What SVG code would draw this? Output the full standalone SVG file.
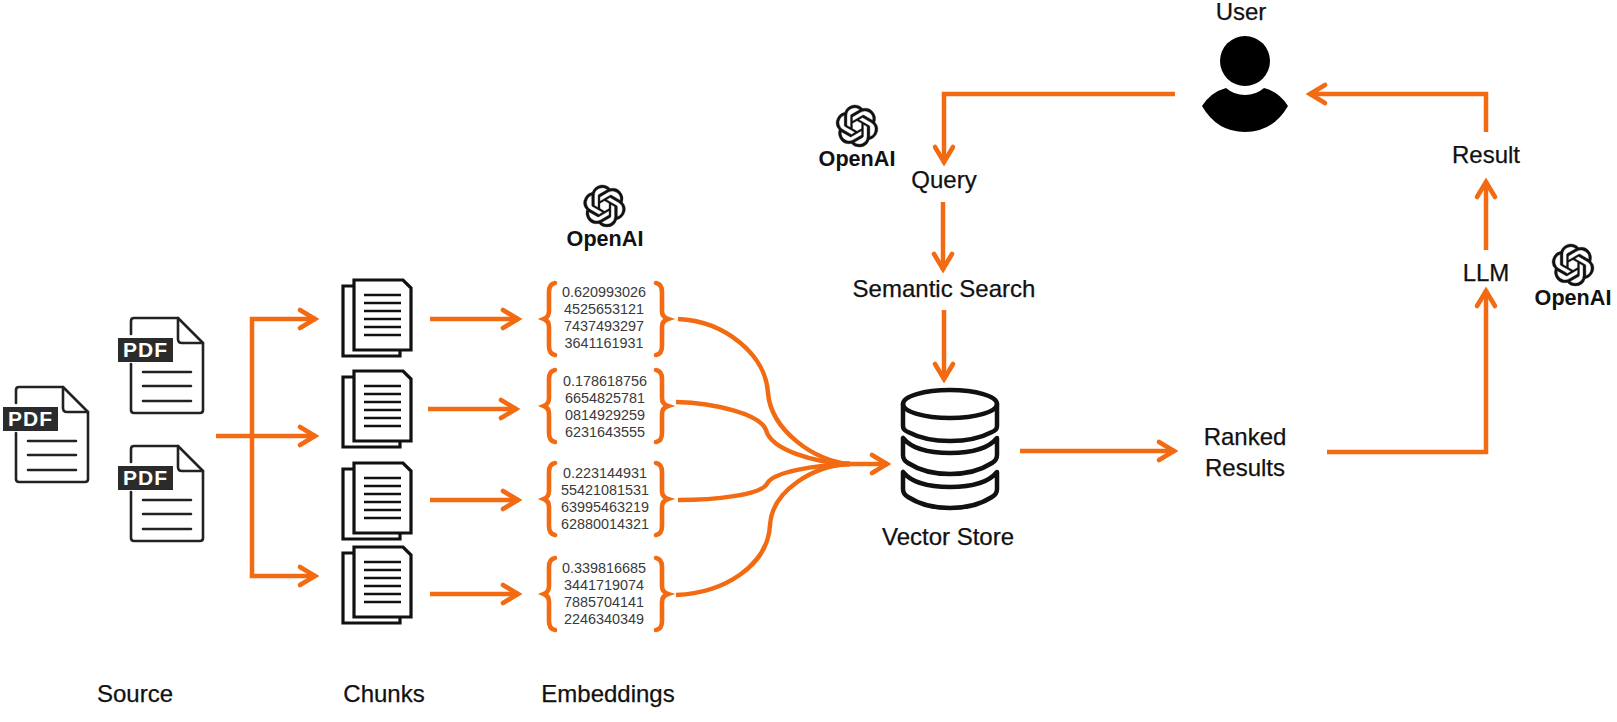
<svg xmlns="http://www.w3.org/2000/svg" xmlns:xlink="http://www.w3.org/1999/xlink" width="1617" height="722" viewBox="0 0 1617 722">
<style>
.lbl{font-family:"Liberation Sans",Arial,sans-serif;font-size:24px;fill:#111;text-anchor:middle;stroke:#111;stroke-width:.25}
.oa{font-family:"Liberation Sans",Arial,sans-serif;font-size:21.6px;font-weight:700;fill:#111;text-anchor:middle}
.num{font-family:"Liberation Sans",Arial,sans-serif;font-size:14.4px;fill:#3a3a3a;text-anchor:middle}
.pdft{font-family:"Liberation Sans",Arial,sans-serif;font-size:21px;font-weight:700;fill:#fff;text-anchor:middle;letter-spacing:1px}
.conn{fill:none;stroke:#F26A12;stroke-width:4.5;stroke-linejoin:miter}
.arr{marker-end:url(#ah)}
.brace{fill:none;stroke:#F26A12;stroke-width:4.6;stroke-linejoin:miter;stroke-linecap:round}
.ink{fill:none;stroke:#222;stroke-width:2.6;stroke-linejoin:round;stroke-linecap:round}
.ink3{fill:none;stroke:#111;stroke-width:3.2;stroke-linejoin:miter}
.db{fill:none;stroke:#111;stroke-width:4.5;stroke-linejoin:round;stroke-linecap:round}
</style>
<defs>
<marker id="ah" markerUnits="userSpaceOnUse" markerWidth="30" markerHeight="30" refX="22" refY="12" orient="auto" viewBox="0 0 30 24">
<path d="M6,3 L21,12 L6,21" fill="none" stroke="#F26A12" stroke-width="4.6" stroke-linecap="round" stroke-linejoin="miter"/>
</marker>
<g id="doc">
<path class="ink" d="M16,403V390Q16,387 19,387H63L88,412V479Q88,482 85,482H19Q16,482 16,479V433"/>
<path class="ink" d="M63,387V408Q63,412 67,412H88"/>
<path class="ink" d="M28,441H76M28,455H76M28,470H76"/>
<rect x="3" y="407" width="55" height="24" fill="#2b2b2b"/>
</g>
<g id="chunk">
<path class="ink3" d="M354,286H343V356H400V350"/>
<path class="ink3" d="M354,280H403L411,288V350H354Z" fill="#fff"/>
<path d="M364,295H401M364,303H401M364,311H401M364,319H401M364,327H401M364,335H401" fill="none" stroke="#111" stroke-width="2.6"/>
</g>
<g id="braces">
<path class="brace" d="M555,283Q549,284 549,292V311Q549,317 544,319Q549,321 549,327V346Q549,354 555,355"/>
<path class="brace" d="M656,283Q662,284 662,292V311Q662,317 668,319Q662,321 662,327V346Q662,354 656,355"/>
</g>
<path id="knot" d="M22.2819 9.8211a5.9847 5.9847 0 0 0-.5157-4.9108 6.0462 6.0462 0 0 0-6.5098-2.9A6.0651 6.0651 0 0 0 4.9807 4.1818a5.9847 5.9847 0 0 0-3.9977 2.9 6.0462 6.0462 0 0 0 .7427 7.0966 5.98 5.98 0 0 0 .511 4.9107 6.051 6.051 0 0 0 6.5146 2.9001A5.9847 5.9847 0 0 0 13.2599 24a6.0557 6.0557 0 0 0 5.7718-4.2058 5.9894 5.9894 0 0 0 3.9977-2.9001 6.0557 6.0557 0 0 0-.7475-7.0729zm-9.022 12.6081a4.4755 4.4755 0 0 1-2.8764-1.0408l.1419-.0804 4.7783-2.7582a.7948.7948 0 0 0 .3927-.6813v-6.7369l2.02 1.1686a.071.071 0 0 1 .038.052v5.5826a4.504 4.504 0 0 1-4.4945 4.4944zm-9.6607-4.1254a4.4708 4.4708 0 0 1-.5346-3.0137l.142.0852 4.783 2.7582a.7712.7712 0 0 0 .7806 0l5.8428-3.3685v2.3324a.0804.0804 0 0 1-.0332.0615L9.74 19.9502a4.4992 4.4992 0 0 1-6.1408-1.6464zM2.3408 7.8956a4.485 4.485 0 0 1 2.3655-1.9728V11.6a.7664.7664 0 0 0 .3879.6765l5.8144 3.3543-2.0201 1.1685a.0757.0757 0 0 1-.071 0l-4.8303-2.7865A4.504 4.504 0 0 1 2.3408 7.872zm16.5963 3.8558L13.1038 8.364 15.1192 7.2a.0757.0757 0 0 1 .071 0l4.8303 2.7913a4.4944 4.4944 0 0 1-.6765 8.1042v-5.6772a.79.79 0 0 0-.407-.667zm2.0107-3.0231l-.142-.0852-4.7735-2.7818a.7759.7759 0 0 0-.7854 0L9.409 9.2297V6.8974a.0662.0662 0 0 1 .0284-.0615l4.8303-2.7866a4.4992 4.4992 0 0 1 6.6802 4.66zM8.3065 12.863l-2.02-1.1638a.0804.0804 0 0 1-.038-.0567V6.0742a4.4992 4.4992 0 0 1 7.3757-3.4537l-.142.0805L8.704 5.459a.7948.7948 0 0 0-.3927.6813zm1.0976-2.3654l2.602-1.4998 2.6069 1.4998v2.9994l-2.5974 1.4997-2.6067-1.4997Z" fill="#111" stroke="#111" stroke-width=".2"/>
</defs>
<rect width="1617" height="722" fill="#fff"/>

<g id="connectors">
<path class="conn arr" d="M216,436H316"/>
<path class="conn arr" d="M252,436V319H316"/>
<path class="conn arr" d="M252,436V576H316"/>
<path class="conn arr" d="M430,319H519"/>
<path class="conn arr" d="M428,409H517"/>
<path class="conn arr" d="M430,500H519"/>
<path class="conn arr" d="M430,594H519"/>
<path class="conn" d="M678,319C725,321 766,355 768,393C771,430 815,462 850,464"/>
<path class="conn" d="M676,402C715,403 760,414 766,430C771,450 815,463 850,464"/>
<path class="conn" d="M678,500C715,500 760,495 767,484C772,472 815,465 850,464"/>
<path class="conn" d="M676,595C725,593 768,565 770,525C772,490 815,465 850,464"/>
<path class="conn arr" d="M835,464H888"/>
<path class="conn arr" d="M1175,94H944V163"/>
<path class="conn arr" d="M943,202V270"/>
<path class="conn arr" d="M944,310V380"/>
<path class="conn arr" d="M1020,451H1175"/>
<path class="conn arr" d="M1327,452H1486V290"/>
<path class="conn arr" d="M1486,250V181"/>
<path class="conn arr" d="M1486,132V94H1309"/>
</g>

<g id="pdf-1"><use href="#doc"/><text class="pdft" x="30.5" y="426">PDF</text></g>
<g id="pdf-2"><use href="#doc" x="115" y="-69"/><text class="pdft" x="145.5" y="357">PDF</text></g>
<g id="pdf-3"><use href="#doc" x="115" y="59"/><text class="pdft" x="145.5" y="485">PDF</text></g>
<g id="label-source"><text class="lbl" x="135" y="702">Source</text></g>

<g id="chunk-1"><use href="#chunk"/></g>
<g id="chunk-2"><use href="#chunk" y="91"/></g>
<g id="chunk-3"><use href="#chunk" y="183"/></g>
<g id="chunk-4"><use href="#chunk" y="267"/></g>
<g id="label-chunks"><text class="lbl" x="384" y="702">Chunks</text></g>

<g id="embedding-1"><use href="#braces"/>
<text class="num" x="604" y="297">0.620993026</text><text class="num" x="604" y="314">4525653121</text><text class="num" x="604" y="331">7437493297</text><text class="num" x="604" y="348">3641161931</text></g>
<g id="embedding-2"><use href="#braces" y="87"/>
<text class="num" x="605" y="386">0.178618756</text><text class="num" x="605" y="403">6654825781</text><text class="num" x="605" y="420">0814929259</text><text class="num" x="605" y="437">6231643555</text></g>
<g id="embedding-3"><use href="#braces" y="180"/>
<text class="num" x="605" y="478">0.223144931</text><text class="num" x="605" y="495">55421081531</text><text class="num" x="605" y="512">63995463219</text><text class="num" x="605" y="529">62880014321</text></g>
<g id="embedding-4"><use href="#braces" y="275"/>
<text class="num" x="604" y="573">0.339816685</text><text class="num" x="604" y="590">3441719074</text><text class="num" x="604" y="607">7885704141</text><text class="num" x="604" y="624">2246340349</text></g>
<g id="label-embeddings"><text class="lbl" x="608" y="702">Embeddings</text></g>

<g id="openai-1"><use href="#knot" transform="translate(583.5,185) scale(1.75)"/><text class="oa" x="605" y="246">OpenAI</text></g>
<g id="openai-2"><use href="#knot" transform="translate(836,105) scale(1.75)"/><text class="oa" x="857" y="166">OpenAI</text></g>
<g id="openai-3"><use href="#knot" transform="translate(1552,244) scale(1.75)"/><text class="oa" x="1573" y="305">OpenAI</text></g>

<g id="vector-store">
<ellipse class="db" cx="950" cy="404" rx="47" ry="14"/>
<path class="db" d="M903,404V426Q903,430 908,432Q925,441 950,441Q975,441 992,432Q997,430 997,426V404"/>
<path class="db" d="M903,438V455Q903,460 908,463Q925,474 950,474Q975,474 992,463Q997,460 997,455V438Q985,453 950,453Q915,453 903,438Z"/>
<path class="db" d="M903,472V489Q903,494 908,497Q925,508 950,508Q975,508 992,497Q997,494 997,489V472Q985,487 950,487Q915,487 903,472Z"/>
<text class="lbl" x="948" y="545">Vector Store</text>
</g>

<g id="user">
<circle cx="1245" cy="61" r="25" fill="#000"/>
<path d="M1202,106Q1211,92 1226,88Q1234,95 1245,95Q1256,95 1264,88Q1279,92 1288,106Q1273,132 1245,132Q1217,132 1202,106Z" fill="#000"/>
<text class="lbl" x="1241" y="20">User</text>
</g>
<g id="query"><text class="lbl" x="944" y="188">Query</text></g>
<g id="semantic-search"><text class="lbl" x="944" y="297">Semantic Search</text></g>
<g id="ranked-results"><text class="lbl" x="1245" y="445">Ranked</text><text class="lbl" x="1245" y="476">Results</text></g>
<g id="llm"><text class="lbl" x="1486" y="281">LLM</text></g>
<g id="result"><text class="lbl" x="1486" y="163">Result</text></g>
</svg>
